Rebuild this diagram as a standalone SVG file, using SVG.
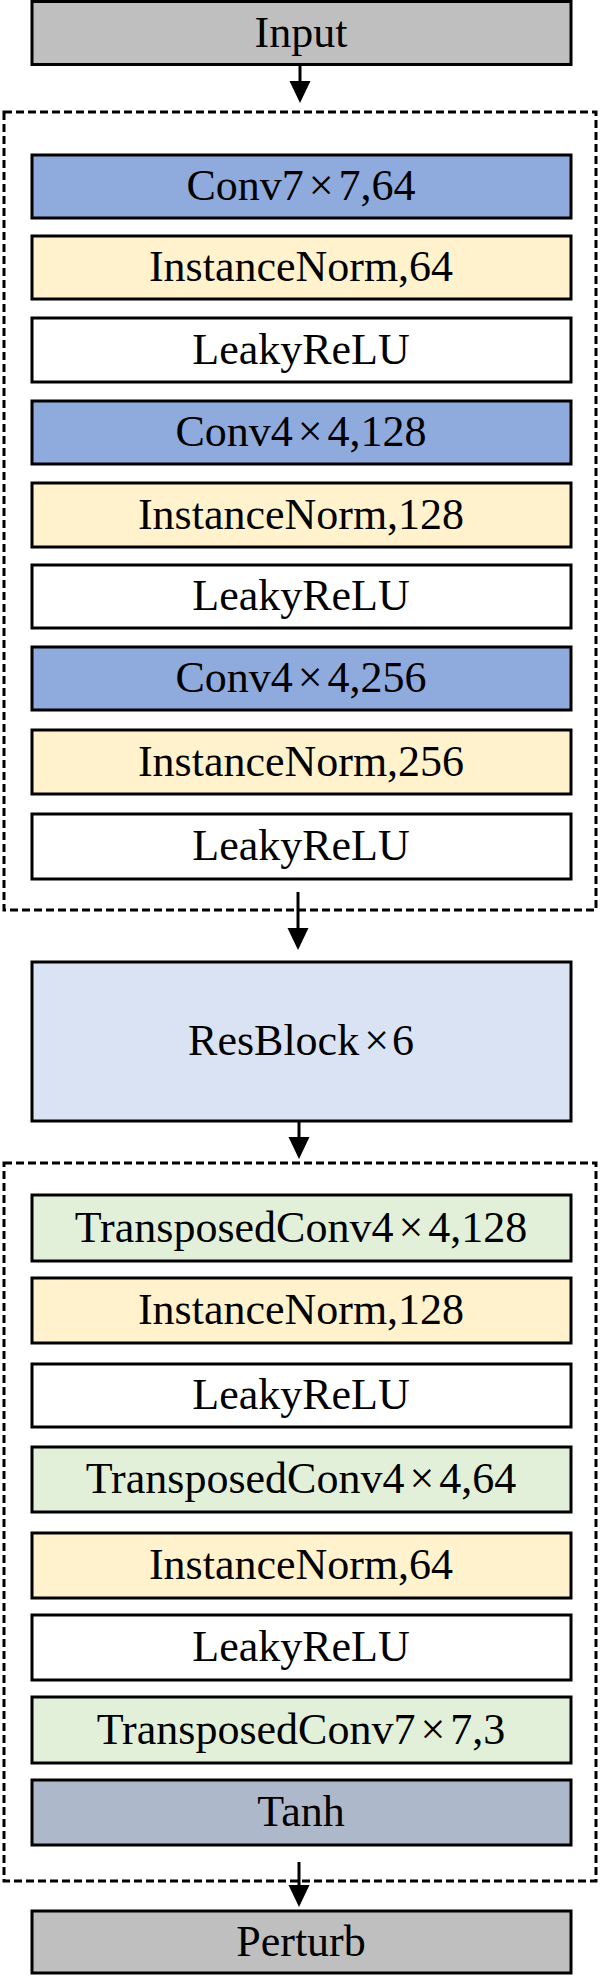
<svg xmlns="http://www.w3.org/2000/svg" width="600" height="1976" viewBox="0 0 600 1976">
  <defs>
    <style>
      .box { stroke: #000; stroke-width: 3; }
      .io { fill: #BFBFBF; }
      .conv { fill: #8FAADC; }
      .norm { fill: #FFF2CC; }
      .act { fill: #FFFFFF; }
      .res { fill: #DAE3F3; }
      .tconv { fill: #E2F0D9; }
      .tanh { fill: #ADB9CA; }
      .group { fill: none; stroke: #000; stroke-width: 3; stroke-dasharray: 8 4; }
      .lbl { font-family: "Liberation Serif", "Times New Roman", serif; font-size: 44px; fill: #000; text-anchor: middle; }
      .link { stroke: #000; stroke-width: 3; fill: none; marker-end: url(#head); }
    </style>
    <marker id="head" markerUnits="userSpaceOnUse" markerWidth="22" markerHeight="22" viewBox="0 0 22 22" refX="11" refY="11" orient="auto">
      <path d="M0,0.5 L22,11 L0,21.5 Z" fill="#000"/>
    </marker>
  </defs>

  <!-- dashed frames around the encoder and decoder stacks -->
  <g id="frames">
    <rect id="encoder-frame" class="group" x="4" y="112" width="592" height="798"/>
    <rect id="decoder-frame" class="group" x="4" y="1163" width="592" height="718"/>
  </g>

  <g id="input">
    <rect class="box io" x="32" y="1.5" width="539" height="63"/>
    <text class="lbl" x="301" y="47">Input</text>
  </g>

  <!-- encoder -->
  <g id="conv7">
    <rect class="box conv" x="32" y="155" width="539" height="63"/>
    <text class="lbl" x="301" y="200">Conv7<tspan dx="5">×</tspan><tspan dx="5">7,64</tspan></text>
  </g>
  <g id="norm64">
    <rect class="box norm" x="32" y="236" width="539" height="63"/>
    <text class="lbl" x="301" y="281">InstanceNorm,64</text>
  </g>
  <g id="relu1">
    <rect class="box act" x="32" y="318" width="539" height="64"/>
    <text class="lbl" x="301" y="364">LeakyReLU</text>
  </g>
  <g id="conv128">
    <rect class="box conv" x="32" y="401" width="539" height="63"/>
    <text class="lbl" x="301" y="446">Conv4<tspan dx="5">×</tspan><tspan dx="5">4,128</tspan></text>
  </g>
  <g id="norm128">
    <rect class="box norm" x="32" y="483" width="539" height="64"/>
    <text class="lbl" x="301" y="529">InstanceNorm,128</text>
  </g>
  <g id="relu2">
    <rect class="box act" x="32" y="565" width="539" height="63"/>
    <text class="lbl" x="301" y="610">LeakyReLU</text>
  </g>
  <g id="conv256">
    <rect class="box conv" x="32" y="647" width="539" height="63"/>
    <text class="lbl" x="301" y="692">Conv4<tspan dx="5">×</tspan><tspan dx="5">4,256</tspan></text>
  </g>
  <g id="norm256">
    <rect class="box norm" x="32" y="730" width="539" height="64"/>
    <text class="lbl" x="301" y="776">InstanceNorm,256</text>
  </g>
  <g id="relu3">
    <rect class="box act" x="32" y="814" width="539" height="65"/>
    <text class="lbl" x="301" y="860">LeakyReLU</text>
  </g>

  <!-- residual stage -->
  <g id="resblock">
    <rect class="box res" x="32" y="962" width="539" height="159"/>
    <text class="lbl" x="301" y="1055">ResBlock<tspan dx="5">×</tspan><tspan dx="3">6</tspan></text>
  </g>

  <!-- decoder -->
  <g id="tconv128">
    <rect class="box tconv" x="32" y="1195" width="539" height="66"/>
    <text class="lbl" x="301" y="1242">TransposedConv4<tspan dx="5">×</tspan><tspan dx="5">4,128</tspan></text>
  </g>
  <g id="dnorm128">
    <rect class="box norm" x="32" y="1278" width="539" height="65"/>
    <text class="lbl" x="301" y="1324">InstanceNorm,128</text>
  </g>
  <g id="relu4">
    <rect class="box act" x="32" y="1364" width="539" height="63"/>
    <text class="lbl" x="301" y="1409">LeakyReLU</text>
  </g>
  <g id="tconv64">
    <rect class="box tconv" x="32" y="1447" width="539" height="65"/>
    <text class="lbl" x="301" y="1493">TransposedConv4<tspan dx="5">×</tspan><tspan dx="5">4,64</tspan></text>
  </g>
  <g id="dnorm64">
    <rect class="box norm" x="32" y="1533" width="539" height="65"/>
    <text class="lbl" x="301" y="1579">InstanceNorm,64</text>
  </g>
  <g id="relu5">
    <rect class="box act" x="32" y="1615" width="539" height="65"/>
    <text class="lbl" x="301" y="1661">LeakyReLU</text>
  </g>
  <g id="tconv3">
    <rect class="box tconv" x="32" y="1697" width="539" height="66"/>
    <text class="lbl" x="301" y="1744">TransposedConv7<tspan dx="5">×</tspan><tspan dx="5">7,3</tspan></text>
  </g>
  <g id="tanh">
    <rect class="box tanh" x="32" y="1780" width="539" height="65"/>
    <text class="lbl" x="301" y="1826">Tanh</text>
  </g>

  <g id="perturb">
    <rect class="box io" x="32" y="1911" width="539" height="62"/>
    <text class="lbl" x="301" y="1956">Perturb</text>
  </g>

  <!-- connectors -->
  <g id="connectors">
    <line class="link" x1="300" y1="65" x2="300" y2="92"/>
    <line class="link" x1="298" y1="892" x2="298" y2="939"/>
    <line class="link" x1="299" y1="1122" x2="299" y2="1148"/>
    <line class="link" x1="299" y1="1862" x2="299" y2="1896"/>
  </g>
</svg>
